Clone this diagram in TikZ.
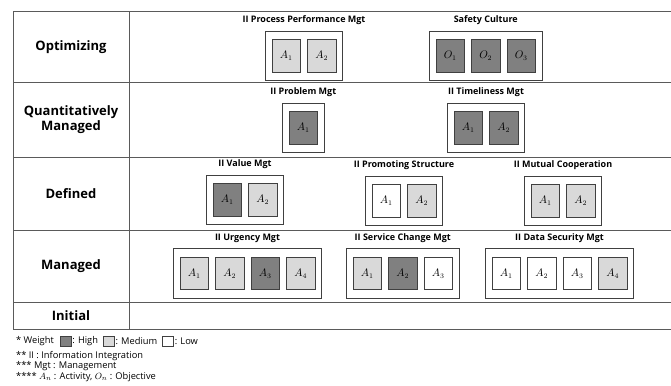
\documentclass[tikz,border=0pt]{standalone}
\usepackage{fontspec}
\setmainfont{Open Sans}
\usetikzlibrary{positioning,fit}
\definecolor{hicol}{RGB}{128,128,128}
\definecolor{medcol}{RGB}{217,217,217}
\definecolor{edgecol}{RGB}{64,64,64}
\definecolor{rulecol}{RGB}{90,90,90}

\tikzset{
  act/.style={draw=edgecol,line width=0.8pt,minimum width=28.5pt,minimum height=32.5pt,inner sep=0pt,font=\fontsize{10.5}{12}\selectfont},
  hi/.style={act,fill=hicol},
  med/.style={act,fill=medcol},
  lo/.style={act,fill=white},
  grp/.style={draw=edgecol,line width=0.8pt,inner xsep=6pt,inner ysep=8pt},
  ttl/.style={font=\bfseries\fontsize{9}{10}\selectfont,inner sep=1pt},
  lvl/.style={font=\bfseries\fontsize{13}{15}\selectfont,align=center},
  rule/.style={draw=rulecol,line width=1pt},
  note/.style={font=\fontsize{9.3}{10}\selectfont,inner sep=0pt,anchor=west},
  key/.style={draw=edgecol,line width=0.6pt,minimum width=11pt,minimum height=10pt,inner sep=0pt}
}

\begin{document}
\begin{tikzpicture}[x=1pt,y=-1pt]
\useasboundingbox (0,0) rectangle (671,385);

% table
\foreach \y in {12,83,157,230,302,329}
  \draw[rule] (13,\y) -- (671,\y);
\draw[rule] (13,12) -- (13,329);
\draw[rule] (129,12) -- (129,329);

\node[lvl] (lvl5) at (71,47.5) {Optimizing};
\node[lvl] (lvl4) at (71,120) {Quantitatively\\Managed};
\node[lvl] (lvl3) at (71,193.5) {Defined};
\node[lvl] (lvl2) at (71,266) {Managed};
\node[lvl] (lvl1) at (71,315.5) {Initial};

% optimizing
\foreach \w [count=\i] in {med,med}
  \node[\w] (ppm\i) at ({286.25+(\i-1)*35.5},56) {$A_{\i}$};
\node[grp,fit=(ppm1)(ppm2)] (ppmbox) {};
\node[ttl,above=5pt of ppmbox] {II Process Performance Mgt};

\foreach \w [count=\i] in {hi,hi,hi}
  \node[\w] (sc\i) at ({450.25+(\i-1)*35.5},56) {$O_{\i}$};
\node[grp,fit=(sc1)(sc3)] (scbox) {};
\node[ttl,above=5pt of scbox] {Safety Culture};

% quantitatively managed
\node[hi] (pm1) at (303.25,128) {$A_{1}$};
\node[grp,fit=(pm1)] (pmbox) {};
\node[ttl,above=5pt of pmbox] {II Problem Mgt};

\foreach \w [count=\i] in {hi,hi}
  \node[\w] (tm\i) at ({468.25+(\i-1)*35.5},128) {$A_{\i}$};
\node[grp,fit=(tm1)(tm2)] (tmbox) {};
\node[ttl,above=5pt of tmbox] {II Timeliness Mgt};

% defined
\foreach \w [count=\i] in {hi,med}
  \node[\w] (vm\i) at ({227.25+(\i-1)*35.5},200) {$A_{\i}$};
\node[grp,fit=(vm1)(vm2)] (vmbox) {};
\node[ttl,above=5pt of vmbox] {II Value Mgt};

\foreach \w [count=\i] in {lo,med}
  \node[\w] (ps\i) at ({386.25+(\i-1)*35.5},201) {$A_{\i}$};
\node[grp,fit=(ps1)(ps2)] (psbox) {};
\node[ttl,above=5pt of psbox] {II Promoting Structure};

\foreach \w [count=\i] in {med,med}
  \node[\w] (mc\i) at ({545.25+(\i-1)*35.5},201) {$A_{\i}$};
\node[grp,fit=(mc1)(mc2)] (mcbox) {};
\node[ttl,above=5pt of mcbox] {II Mutual Cooperation};

% managed
\foreach \w [count=\i] in {med,med,hi,med}
  \node[\w] (um\i) at ({194.25+(\i-1)*35.5},273.5) {$A_{\i}$};
\node[grp,fit=(um1)(um4)] (umbox) {};
\node[ttl,above=5pt of umbox] {II Urgency Mgt};

\foreach \w [count=\i] in {med,hi,lo}
  \node[\w] (scm\i) at ({367.25+(\i-1)*35.5},273.5) {$A_{\i}$};
\node[grp,fit=(scm1)(scm3)] (scmbox) {};
\node[ttl,above=5pt of scmbox] {II Service Change Mgt};

\foreach \w [count=\i] in {lo,lo,lo,med}
  \node[\w] (ds\i) at ({506.25+(\i-1)*35.5},273.5) {$A_{\i}$};
\node[grp,fit=(ds1)(ds4)] (dsbox) {};
\node[ttl,above=5pt of dsbox] {II Data Security Mgt};

% notes
\node[note] (wt) at (16,341) {* Weight};
\node[key,fill=hicol,right=6pt of wt] (khi) {};
\node[note,right=0.5pt of khi] (thi) {: High};
\node[key,fill=medcol,right=5pt of thi] (kmed) {};
\node[note,right=0.5pt of kmed] (tmed) {: Medium};
\node[key,fill=white,right=5pt of tmed] (klo) {};
\node[note,right=0.5pt of klo] (tlo) {: Low};
\node[note] (n2) at (16,356) {** II : Information Integration};
\node[note] (n3) at (16,366.5) {*** Mgt : Management};
\node[note] (n4) at (16,377) {**** $A_n$ : Activity, $O_n$ : Objective};
\end{tikzpicture}
\end{document}
